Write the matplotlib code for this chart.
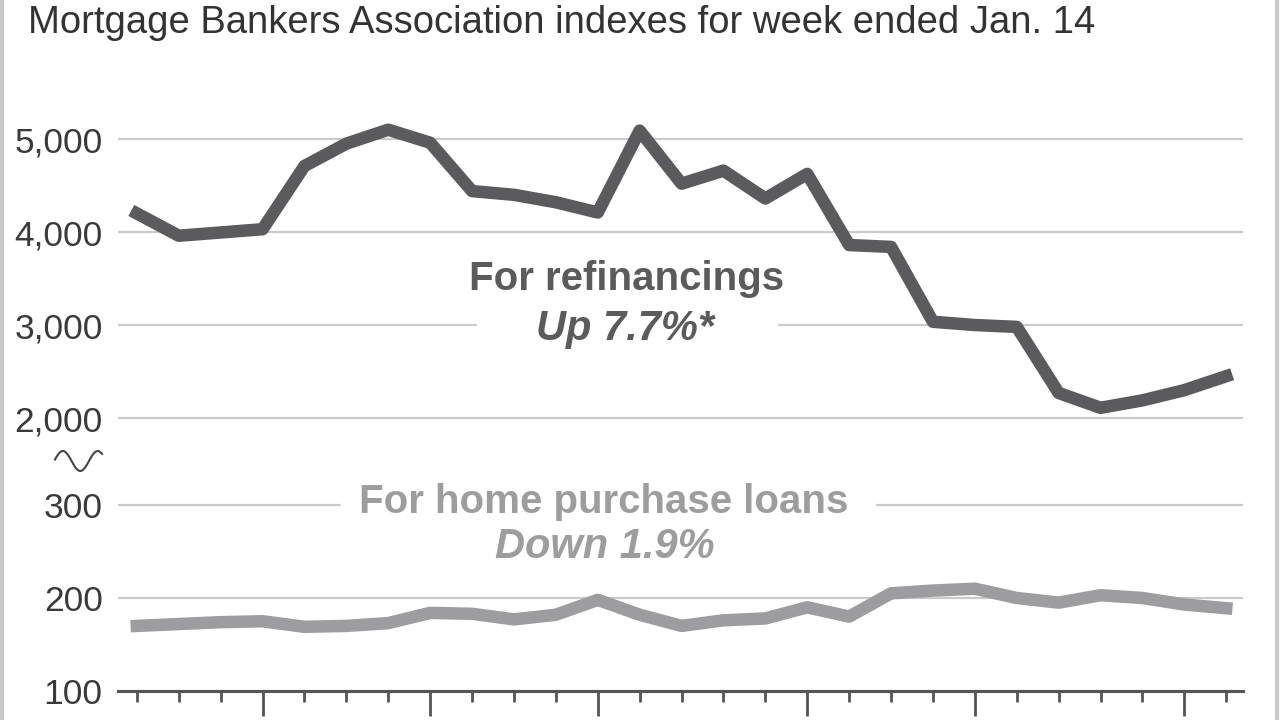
import numpy as np
import matplotlib
matplotlib.use("Agg")
import matplotlib.pyplot as plt
from matplotlib import font_manager
from matplotlib.lines import Line2D
from matplotlib.patches import Rectangle

# weekly index values, 27 weeks
weeks = np.arange(27)
refinance = [4200, 3960, 3995, 4030, 4710, 4950, 5100, 4960, 4440, 4400, 4320, 4210, 5090,
             4520, 4660, 4360, 4625, 3860, 3840, 3035, 3000, 2980, 2270, 2110, 2190, 2300, 2450]
purchase = [170, 172, 174, 175, 169, 170, 173, 184, 183, 177, 182, 198, 182, 170,
            176, 178, 190, 180, 205, 208, 210, 200, 195, 203, 200, 193, 189]
month_ticks = [3, 7, 11, 16, 20, 25]
upper_ticks = [2000, 3000, 4000, 5000]
lower_ticks = [100, 200, 300]

names = {f.name for f in font_manager.fontManager.ttflist}
font = "Liberation Sans Narrow" if "Liberation Sans Narrow" in names else "Liberation Sans"
plt.rcParams['font.family'] = [font, 'DejaVu Sans']

DARK = '#5b5b5d'
LIGHT = '#9d9d9f'
GRID = '#cacaca'
W, H = 1280, 720

fig = plt.figure(figsize=(12.8, 7.2), dpi=100)

def px(x0, y_top, x1, y_bot):
    return [x0 / W, 1 - y_bot / H, (x1 - x0) / W, (y_bot - y_top) / H]

ax_top = fig.add_axes(px(118, 101.8, 1243, 432))
ax_bot = fig.add_axes(px(118, 458.5, 1243, 691))

for ax in (ax_top, ax_bot):
    ax.set_xlim(-0.45, 26.4)
    for s in ax.spines.values():
        s.set_visible(False)
    ax.yaxis.grid(True, color=GRID, lw=1.6)
    ax.set_axisbelow(True)
    ax.tick_params(axis='y', length=0, pad=11, labelsize=25.5, labelcolor='#3a3a3a')

ax_top.set_ylim(1850, 5400)
ax_top.set_yticks(upper_ticks, labels=[f"{v:,}" for v in upper_ticks])
ax_top.set_xticks([])

ax_bot.set_ylim(100, 350)
ax_bot.set_yticks(lower_ticks, labels=[str(v) for v in lower_ticks])
ax_bot.spines['bottom'].set_visible(True)
ax_bot.spines['bottom'].set_color('#555555')
ax_bot.spines['bottom'].set_linewidth(2.2)
ax_bot.set_xticks(month_ticks)
ax_bot.set_xticks([w for w in weeks if w not in month_ticks], minor=True)
ax_bot.tick_params(axis='x', which='major', length=18, width=2, color='#555555', labelbottom=False)
ax_bot.tick_params(axis='x', which='minor', length=8, width=2, color='#555555')

ax_top.plot(weeks, refinance, color=DARK, lw=9, clip_on=False, zorder=3)
ax_bot.plot(weeks, purchase, color=LIGHT, lw=9, clip_on=False, zorder=3)

# gaps in gridlines behind the labels
fig.add_artist(Rectangle((477 / W, 1 - 340 / H), 300 / W, 30 / H, color='white', zorder=1))
fig.add_artist(Rectangle((341 / W, 1 - 520 / H), 534 / W, 30 / H, color='white', zorder=1))

fig.text(627 / W, 1 - 279 / H, "For refinancings", ha='center', va='center',
         fontsize=29, fontweight='bold', color=DARK, zorder=4)
fig.text(625 / W, 1 - 329 / H, "Up 7.7%*", ha='center', va='center',
         fontsize=30, fontweight='bold', fontstyle='italic', color=DARK, zorder=4)
fig.text(604 / W, 1 - 502 / H, "For home purchase loans", ha='center', va='center',
         fontsize=29, fontweight='bold', color=LIGHT, zorder=4)
fig.text(605 / W, 1 - 547 / H, "Down 1.9%", ha='center', va='center',
         fontsize=30, fontweight='bold', fontstyle='italic', color=LIGHT, zorder=4)

fig.text(28 / W, 1 - 23 / H, "Mortgage Bankers Association indexes for week ended Jan. 14",
         ha='left', va='center', fontsize=27.5, color='#333333')

# axis break squiggle
t = np.linspace(0, 1, 40)
bx = 55 + 47 * t
by = 461 - 10 * np.sin(2 * np.pi * 1.35 * t + 0.15)
fig.add_artist(Line2D(bx / W, 1 - by / H, color='#444444', lw=1.5))

# frame edges
fig.add_artist(Line2D([2 / W, 2 / W], [0, 1], color='#c8c8c8', lw=3))
fig.add_artist(Line2D([1277 / W, 1277 / W], [0, 1], color='#c8c8c8', lw=3))

fig.savefig("out.png", dpi=100)
